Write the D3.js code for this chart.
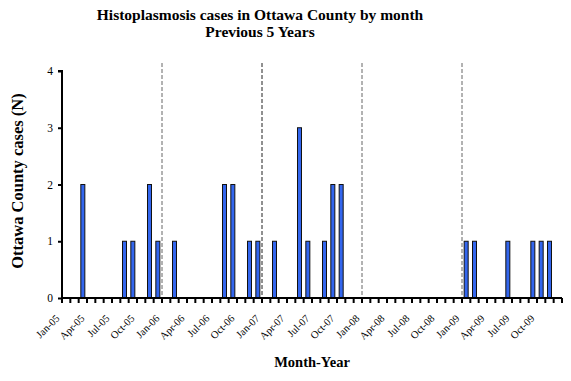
<!DOCTYPE html>
<html><head><meta charset="utf-8">
<script src="https://cdn.jsdelivr.net/npm/d3@7"></script>
<style>body{margin:0;background:#fff}svg{display:block;font-family:"Liberation Serif","Times New Roman",serif}</style>
</head><body><svg id="c" width="571" height="381"></svg>
<script>
const months = [];
const monthNames = ["Jan","Feb","Mar","Apr","May","Jun","Jul","Aug","Sep","Oct","Nov","Dec"];
const years = ["05","06","07","08","09"];
years.forEach(y => monthNames.forEach(m => months.push(m + "-" + y)));
const cases = [
  0,0,2,0,0,0,0,1,1,0,2,1,
  0,1,0,0,0,0,0,2,2,0,1,1,
  0,1,0,0,3,1,0,1,2,2,0,0,
  0,0,0,0,0,0,0,0,0,0,0,0,
  1,1,0,0,0,1,0,0,1,1,1,0
];
const yTicks = [0,1,2,3,4];
const labelMonths = months.filter((d,i) => i % 3 === 0);
const yearBreaks = ["Jan-06","Jan-07","Jan-08","Jan-09"];

const svg = d3.select("#c");
const L = 62, R = 562, T = 71, B = 298;
const x = d3.scaleBand().domain(months).range([L, R]).padding(0);
const y = d3.scaleLinear().domain([0, 4]).range([B, T]);

// title
svg.append("text").attr("x", 260).attr("y", 20).attr("text-anchor","middle")
  .attr("font-weight","bold").attr("font-size", 15.5).text("Histoplasmosis cases in Ottawa County by month");
svg.append("text").attr("x", 260).attr("y", 37).attr("text-anchor","middle")
  .attr("font-weight","bold").attr("font-size", 15.5).text("Previous 5 Years");

// dashed year lines
svg.append("g").selectAll("line").data(yearBreaks).join("line")
  .attr("x1", d => x(d)).attr("x2", d => x(d))
  .attr("y1", 63).attr("y2", B)
  .attr("stroke", (d,i) => i === 1 ? "#222" : "#666").attr("stroke-width", 1)
  .attr("stroke-dasharray", "4,2");

// bars
const bw = 4;
svg.append("g").selectAll("rect").data(months.map((m,i) => ({m, v: cases[i]})).filter(d => d.v > 0)).join("rect")
  .attr("x", d => x(d.m) + x.bandwidth()/2 - bw/2)
  .attr("y", d => y(d.v))
  .attr("width", bw)
  .attr("height", d => y(0) - y(d.v))
  .attr("fill", "#3366ee").attr("stroke", "#111").attr("stroke-width", 1);

// y axis
const ya = svg.append("g").attr("transform", `translate(${L},0)`)
  .call(d3.axisLeft(y).tickValues(yTicks).tickFormat(d3.format("d")).tickSize(4).tickPadding(5));
ya.select(".domain").attr("stroke-width", 2).attr("d", `M-4,${T}H0V${B}`);
ya.selectAll(".tick line").attr("stroke-width", 2);
ya.selectAll(".tick text").attr("font-size", 11.5).attr("font-family", "Liberation Serif, serif");

// x axis
const xa = svg.append("g").attr("transform", `translate(0,${B})`);
xa.append("line").attr("x1", L).attr("x2", R).attr("y1", 0).attr("y2", 0).attr("stroke", "#000").attr("stroke-width", 2);
xa.selectAll("line.tk").data(months.concat(["end"])).join("line").attr("class","tk")
  .attr("x1", (d,i) => L + i * x.bandwidth()).attr("x2", (d,i) => L + i * x.bandwidth())
  .attr("y1", 0).attr("y2", 5).attr("stroke", "#000").attr("stroke-width", 2);
xa.selectAll("text").data(labelMonths).join("text")
  .attr("transform", d => `translate(${x(d) + x.bandwidth()/2 - 6},${21}) rotate(-45)`)
  .attr("text-anchor", "end").attr("font-size", 10.5).text(d => d);

// axis titles
svg.append("text").attr("x", 312).attr("y", 367).attr("text-anchor","middle")
  .attr("font-weight","bold").attr("font-size", 14.5).text("Month-Year");
svg.append("text").attr("transform", "translate(23,181) rotate(-90)").attr("text-anchor","middle")
  .attr("font-weight","bold").attr("font-size", 16.5).text("Ottawa County cases (N)");
</script></body></html>
